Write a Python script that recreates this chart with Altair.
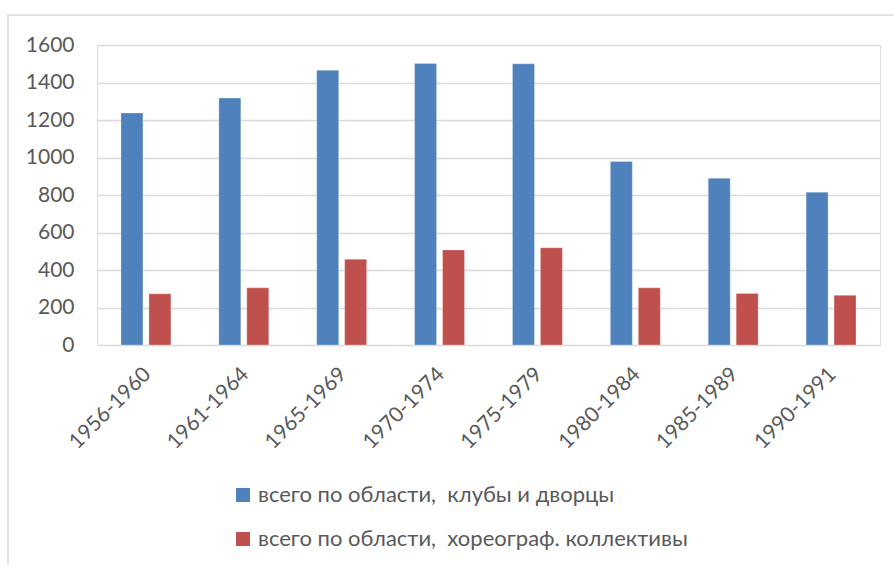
import altair as alt
import pandas as pd

periods = ["1956-1960", "1961-1964", "1965-1969", "1970-1974",
           "1975-1979", "1980-1984", "1985-1989", "1990-1991"]
clubs = [1237, 1317, 1465, 1502, 1500, 979, 890, 815]
choreo = [273, 305, 457, 507, 519, 305, 275, 265]
series_names = ["всего по области,\u00a0 клубы и дворцы",
                "всего по области,\u00a0 хореограф. коллективы"]
colors = ["#4f81bd", "#c0504d"]
y_ticks = [0, 200, 400, 600, 800, 1000, 1200, 1400, 1600]

rows = []
for p, a, b in zip(periods, clubs, choreo):
    rows.append({"period": p, "series": series_names[0], "value": a})
    rows.append({"period": p, "series": series_names[1], "value": b})
df = pd.DataFrame(rows)

FONT = "Lato"
GREY = "#595959"

bars = alt.Chart(df).mark_bar(stroke="#ffffff", strokeOpacity=0.35, strokeWidth=0.8).encode(
    x=alt.X("period:N", sort=periods, title=None,
            scale=alt.Scale(paddingInner=0.49, paddingOuter=0.245),
            axis=alt.Axis(labelAngle=-45, labelFontSize=21, labelColor=GREY,
                          labelFont=FONT, ticks=False, domain=False,
                          labelPadding=18, labelOffset=-6)),
    xOffset=alt.XOffset("series:N", sort=series_names,
                        scale=alt.Scale(paddingInner=0.214, paddingOuter=0)),
    y=alt.Y("value:Q", title=None,
            scale=alt.Scale(domain=[0, 1600], nice=False),
            axis=alt.Axis(values=y_ticks, format="d", labelFontSize=21, labelColor=GREY,
                          labelFont=FONT, ticks=False, domain=False,
                          gridColor="#d9d9d9", gridWidth=1.4, labelPadding=23)),
    color=alt.Color("series:N", sort=series_names,
                    scale=alt.Scale(domain=series_names, range=colors),
                    legend=alt.Legend(title=None, orient="none", legendX=135, legendY=439,
                                      direction="vertical", symbolType="square",
                                      symbolSize=196, symbolStrokeWidth=0,
                                      labelFontSize=22, labelFont=FONT,
                                      labelColor=GREY, rowPadding=22,
                                      labelOffset=4, labelLimit=600)),
)

frame = alt.Chart(pd.DataFrame({"a": [0]})).mark_rect(
    fill=None, stroke="#d9d9d9", strokeWidth=1.5, clip=False
).encode(
    x=alt.value(-89), x2=alt.value(830),
    y=alt.value(-30), y2=alt.value(600),
)

chart = alt.layer(frame, bars).properties(
    width=783, height=300,
    padding={"left": 97, "top": 45, "right": 14, "bottom": 220},
    autosize=alt.AutoSizeParams(type="none"),
).configure_view(stroke=None).configure(background="white")

chart.save("out.html", embed_options={"renderer": "svg", "actions": False})
